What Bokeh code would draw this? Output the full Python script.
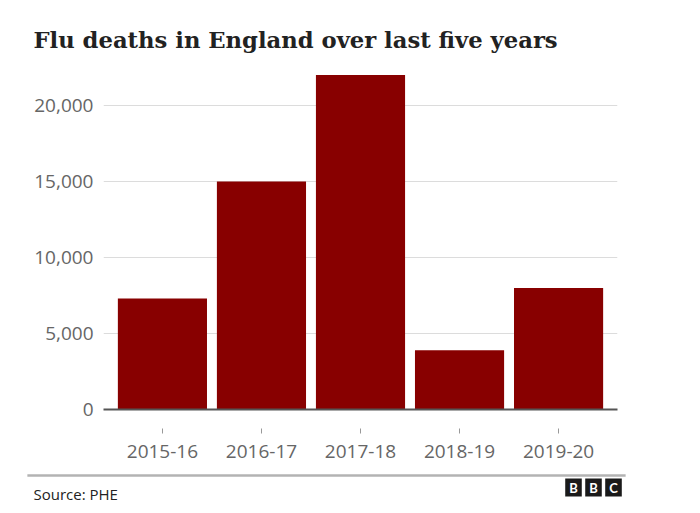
from bokeh.plotting import figure
from bokeh.models import (Range1d, FactorRange, NumeralTickFormatter, FixedTicker,
                          Label, ColumnDataSource)
from bokeh.embed import file_html
from bokeh.resources import INLINE

# ---- data ----
seasons = ["2015-16", "2016-17", "2017-18", "2018-19", "2019-20"]
deaths = [7300, 15000, 22000, 3900, 8000]
y_ticks = [0, 5000, 10000, 15000, 20000]
title_text = "Flu deaths in England over last five years"
source_text = "Source: PHE"
logo_letters = ["B", "B", "C"]

BAR = "#880000"
SANS = "Open Sans"

# ---- layout constants (pixels) ----
W, H = 700, 513
F_LEFT, F_RIGHT, F_TOP, F_BOTTOM = 103, 617, 70, 409
PAD = 0.095
Y_MAX = 22300
SPAN = len(seasons) + 2 * PAD


def dx(px):
    """pixel x on canvas -> synthetic x coordinate of the categorical range"""
    return -PAD + (px - F_LEFT) * SPAN / (F_RIGHT - F_LEFT)


def dy(py):
    """pixel y on canvas -> y data coordinate"""
    return (F_BOTTOM - py) * Y_MAX / (F_BOTTOM - F_TOP)


src = ColumnDataSource(dict(season=seasons, deaths=deaths))

p = figure(width=W, height=H, output_backend="svg", toolbar_location=None,
           tools="", title=None,
           x_range=FactorRange(factors=seasons, range_padding=PAD,
                               range_padding_units="absolute"),
           y_range=Range1d(0, Y_MAX),
           min_border_left=F_LEFT, min_border_right=W - F_RIGHT,
           min_border_top=F_TOP, min_border_bottom=H - F_BOTTOM)

p.vbar(x="season", top="deaths", width=0.9, source=src,
       fill_color=BAR, line_color=None)

p.outline_line_color = None
p.background_fill_color = "white"
p.border_fill_color = "white"

p.yaxis.ticker = FixedTicker(ticks=y_ticks)
p.yaxis.formatter = NumeralTickFormatter(format="0,0")
p.yaxis.axis_line_color = None
p.yaxis.major_tick_line_color = None
p.yaxis.minor_tick_line_color = None
p.yaxis.major_tick_out = 0
p.yaxis.major_tick_in = 0
p.yaxis.major_label_standoff = 10
p.yaxis.major_label_text_font = SANS
p.yaxis.major_label_text_font_size = "19px"
p.yaxis.major_label_text_color = "#666666"

p.xgrid.grid_line_color = None
p.ygrid.ticker = FixedTicker(ticks=y_ticks[1:])
p.ygrid.grid_line_color = "#dcdcdc"
p.ygrid.grid_line_width = 1

p.xaxis.axis_line_color = "#555555"
p.xaxis.axis_line_width = 2
p.xaxis.major_tick_in = -19
p.xaxis.major_tick_out = 24
p.xaxis.major_tick_line_color = "#999999"
p.xaxis.major_tick_line_width = 1
p.xaxis.major_label_standoff = 11
p.xaxis.major_label_text_font = SANS
p.xaxis.major_label_text_font_size = "19px"
p.xaxis.major_label_text_color = "#666666"

# ---- title (in the top panel, so it is not clipped to the frame) ----
p.add_layout(Label(x=dx(33), y=dy(39), text=title_text, text_font="DejaVu Serif",
                   text_font_style="bold", text_font_size="22.7px",
                   text_color="#222222", text_baseline="alphabetic",
                   text_align="left"), "above")

# ---- footer ----
# separator rule: an (almost) empty label whose padded background forms the line
p.add_layout(Label(x=dx(326), y=dy(475), text=" ", text_font=SANS,
                   text_font_size="1px", text_color="#b3b3b3",
                   background_fill_color="#b3b3b3", background_fill_alpha=1,
                   padding=dict(left=299, right=299, top=1, bottom=0),
                   text_align="center", text_baseline="middle"), "below")

p.add_layout(Label(x=dx(33), y=dy(493), text=source_text, text_font=SANS,
                   text_font_size="15px", text_color="#222222",
                   text_baseline="alphabetic", text_align="left"), "below")

for i, letter in enumerate(logo_letters):
    cx = 573 + 20 * i
    p.add_layout(Label(x=dx(cx), y=dy(487), text=letter, text_font="Lato",
                       text_font_style="bold", text_font_size="13px",
                       text_color="white",
                       background_fill_color="#1a1a1a", background_fill_alpha=1,
                       padding=dict(left=4, right=4, top=1, bottom=1),
                       text_align="center", text_baseline="middle"), "right")

open("out.html", "w").write(file_html(p, INLINE))
